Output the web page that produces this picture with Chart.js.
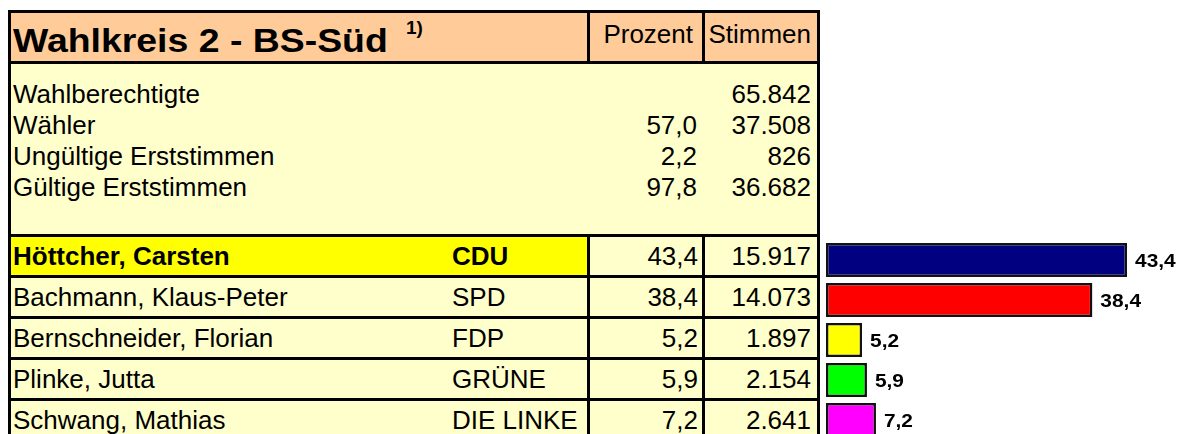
<!DOCTYPE html>
<html lang="de">
<head>
<meta charset="utf-8">
<title>Wahlkreis 2 - BS-Süd</title>
<script src="https://cdn.jsdelivr.net/npm/chart.js@4.4.1/dist/chart.umd.min.js"></script>
<style>
  body {
    margin: 0;
    width: 1177px;
    height: 434px;
    overflow: hidden;
    position: relative;
    background: #fff;
    font-family: "Liberation Sans", Arial, sans-serif;
    color: #000;
  }
  .box, .txt { position: absolute; }
  .txt { white-space: nowrap; line-height: 1; }
  #barChart { position: absolute; left: 826px; top: 240px; }
</style>
</head>
<body>
<div id="table"></div>
<canvas id="barChart" width="351" height="200"></canvas>
<script>
// --- data ---
const title = 'Wahlkreis 2 - BS-Süd';
const footnote = '1)';
const columnHeads = ['Prozent', 'Stimmen'];

const summaryLabels = ['Wahlberechtigte', 'Wähler', 'Ungültige Erststimmen', 'Gültige Erststimmen'];
const summaryPercent = [null, 57.0, 2.2, 97.8];
const summaryVotes = [65842, 37508, 826, 36682];

const candidates = ['Höttcher, Carsten', 'Bachmann, Klaus-Peter', 'Bernschneider, Florian', 'Plinke, Jutta', 'Schwang, Mathias'];
const parties = ['CDU', 'SPD', 'FDP', 'GRÜNE', 'DIE LINKE'];
const percent = [43.4, 38.4, 5.2, 5.9, 7.2];
const votes = [15917, 14073, 1897, 2154, 2641];
const winner = 0;

const partyColors = ['#000080', '#FF0000', '#FFFF00', '#00FF00', '#FF00FF'];

// --- helpers ---
function fmtPct(v) {
  return v.toFixed(1).replace('.', ',');
}
function fmtVotes(v) {
  return String(v).replace(/\B(?=(\d{3})+(?!\d))/g, '.');
}

const table = document.getElementById('table');

function box(x, y, w, h, bg) {
  const d = document.createElement('div');
  d.className = 'box';
  d.style.cssText = `left:${x}px;top:${y}px;width:${w}px;height:${h}px;background:${bg}`;
  table.appendChild(d);
}

// text placed by its baseline; right = right edge when right aligned
function text(str, x, baseline, size, opts = {}) {
  const d = document.createElement('div');
  d.className = 'txt';
  d.textContent = str;
  d.style.fontSize = size + 'px';
  d.style.top = (baseline - 0.8465 * size) + 'px';
  if (opts.bold) d.style.fontWeight = 'bold';
  if (opts.right) {
    d.style.right = (1177 - x) + 'px';
  } else {
    d.style.left = x + 'px';
  }
  if (opts.stretch) {
    d.style.transform = `scaleX(${opts.stretch})`;
    d.style.transformOrigin = 'left';
  }
  table.appendChild(d);
}

// --- table layout ---
const L = 8, R = 820, T = 10, B = 440, line = 3;
const colPct = 587, colVotes = 702;
const headBottom = 61, infoBottom = 234, rowPitch = 41;
const peach = '#FFCC99', cream = '#FFFFCC', highlight = '#FFFF00';

box(L + line, T + line, R - L - 2 * line, headBottom - T - line, peach);
box(L + line, headBottom + line, R - L - 2 * line, infoBottom - headBottom - line, cream);
box(L + line, infoBottom, R - L - 2 * line, B - infoBottom, cream);

// header
text(title, 13, 52, 34, {bold: true, stretch: 1.1});
text(footnote, 406, 34, 19, {bold: true});
text(columnHeads[0], 693, 43.5, 26, {right: true});
text(columnHeads[1], 811, 43.5, 26, {right: true});

// summary block
summaryLabels.forEach((lab, i) => {
  const base = 103 + i * 31;
  text(lab, 13, base, 26);
  if (summaryPercent[i] !== null) text(fmtPct(summaryPercent[i]), 697, base, 26, {right: true});
  text(fmtVotes(summaryVotes[i]), 811, base, 26, {right: true});
});

// candidate rows
candidates.forEach((name, i) => {
  const top = infoBottom + i * rowPitch + line;
  const bottom = infoBottom + (i + 1) * rowPitch;
  const base = (top + bottom) / 2 + 9.3;
  if (i === winner) box(L + line, top, colPct - L - line, bottom - top, highlight);
  box(L + line, top - line, R - L - 2 * line, line, '#000');
  const bold = i === winner;
  text(name, 13, base, 26, {bold});
  text(parties[i], 452, base, 26, {bold});
  text(fmtPct(percent[i]), 698, base, 26, {right: true});
  text(fmtVotes(votes[i]), 811, base, 26, {right: true});
});

// grid lines
box(L, T, R - L, line, '#000');
box(L, T, line, B - T, '#000');
box(R - line, T, line, B - T, '#000');
box(L, headBottom, R - L, line, '#000');
box(colPct, T, line, headBottom - T, '#000');
box(colVotes, T, line, headBottom - T, '#000');
box(colPct, infoBottom, line, B - infoBottom, '#000');
box(colVotes, infoBottom, line, B - infoBottom, '#000');

// --- bars ---
const valueLabels = {
  id: 'valueLabels',
  afterDatasetsDraw(chart) {
    const ctx = chart.ctx;
    const meta = chart.getDatasetMeta(0);
    ctx.save();
    ctx.fillStyle = '#000';
    ctx.font = 'bold 19px "Liberation Sans", Arial, sans-serif';
    ctx.textBaseline = 'alphabetic';
    meta.data.forEach((bar, i) => {
      ctx.save();
      ctx.translate(bar.x + 8, bar.y + 7);
      ctx.scale(1.1, 1);
      ctx.fillText(fmtPct(percent[i]), 0, 0);
      ctx.restore();
    });
    ctx.restore();
  },
};

new Chart(document.getElementById('barChart').getContext('2d'), {
  type: 'bar',
  data: {
    labels: parties,
    datasets: [
      {
        data: percent,
        backgroundColor: partyColors,
        borderColor: '#111',
        borderWidth: 2.5,
        borderSkipped: false,
        categoryPercentage: 1,
        barPercentage: 0.85,
      },
    ],
  },
  options: {
    indexAxis: 'y',
    responsive: false,
    animation: false,
    layout: {padding: 0},
    plugins: {
      legend: {display: false},
      tooltip: {enabled: false},
    },
    scales: {
      x: {display: false, min: 0, max: 50.6},
      y: {display: false},
    },
  },
  plugins: [valueLabels],
});
</script>
</body>
</html>
